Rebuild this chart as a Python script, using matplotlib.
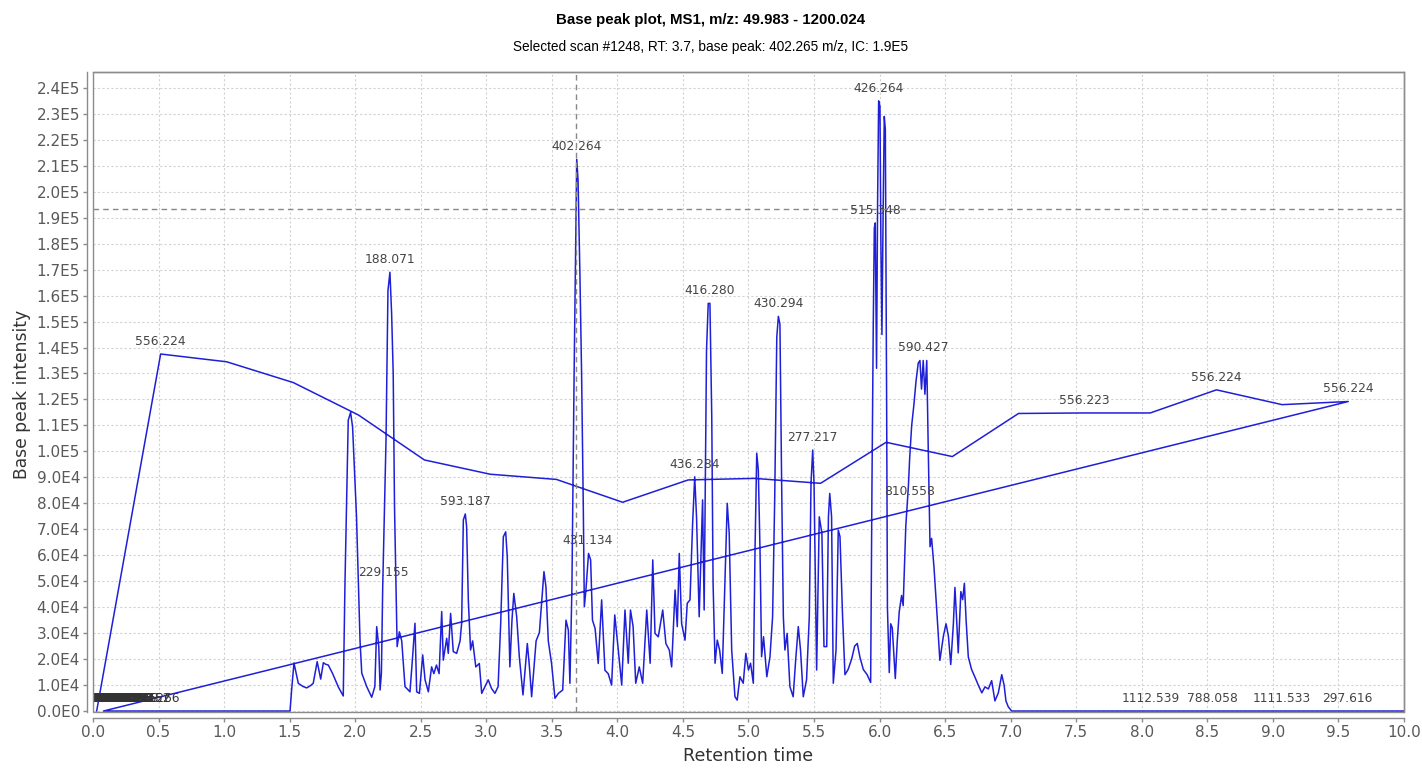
import numpy as np
import matplotlib
matplotlib.use("Agg")
import matplotlib.pyplot as plt
import matplotlib.ticker as ticker
import matplotlib.transforms as mtransforms
from matplotlib.patches import Rectangle

# 标题
TITLE = "Base peak plot, MS1, m/z: 49.983 - 1200.024"
SUBTITLE = "Selected scan #1248, RT: 3.7, base peak: 402.265 m/z, IC: 1.9E5"

# 选中扫描的十字线位置
sel_rt = 3.684
sel_bpi = 193400

# 数据点（按文件顺序）：前面一段约每 0.5 min 一个点，然后回到起点
coarse_rt = [0.028, 0.516, 1.02, 1.528, 2.025, 2.528, 3.03, 3.535, 4.04, 4.54,
             5.045, 5.55, 6.05, 6.555, 7.06, 7.56, 8.065, 8.57, 9.07, 9.575,
             0.08, 1.503]
coarse_bpi = [0, 13.75, 13.45, 12.65, 11.4, 9.67, 9.12, 8.92, 8.04, 8.9,
              8.96, 8.77, 10.35, 9.8, 11.46, 11.48, 11.48, 12.37, 11.8, 11.92,
              0, 0]

# 色谱主体（单位 1E4）
scan_rt = [1.515, 1.533, 1.566, 1.60, 1.63, 1.66, 1.68, 1.71, 1.737, 1.757, 1.775, 1.795,
           1.828, 1.871, 1.909, 1.922, 1.947, 1.965, 1.98, 2.01, 2.037, 2.05, 2.088,
           2.126, 2.15, 2.164, 2.18, 2.19, 2.20, 2.21, 2.235, 2.25, 2.265, 2.278, 2.29,
           2.30, 2.32, 2.337, 2.355, 2.38, 2.418, 2.438, 2.456, 2.469, 2.49, 2.515,
           2.533, 2.558, 2.583, 2.60, 2.62, 2.64, 2.66, 2.672, 2.698, 2.71, 2.728,
           2.748, 2.774, 2.80, 2.812, 2.825, 2.84, 2.85, 2.863, 2.88, 2.896, 2.92,
           2.947, 2.965, 2.99, 3.015, 3.04, 3.066, 3.09, 3.11, 3.13, 3.148, 3.16,
           3.18, 3.196, 3.21, 3.232, 3.252, 3.28, 3.313, 3.328, 3.346, 3.38, 3.405,
           3.42, 3.44, 3.455, 3.473, 3.498, 3.524, 3.55, 3.583, 3.608, 3.626, 3.638,
           3.653, 3.67, 3.69, 3.70, 3.714, 3.727, 3.74, 3.748, 3.76, 3.78, 3.796,
           3.81, 3.83, 3.854, 3.88, 3.905, 3.93, 3.956, 3.98, 4.007, 4.033, 4.058,
           4.083, 4.10, 4.12, 4.14, 4.167, 4.193, 4.224, 4.25, 4.27, 4.287, 4.312,
           4.346, 4.37, 4.396, 4.414, 4.44, 4.457, 4.472, 4.49, 4.516, 4.533, 4.554,
           4.574, 4.59, 4.604, 4.624, 4.65, 4.662, 4.68, 4.693, 4.706, 4.72, 4.73,
           4.745, 4.762, 4.78, 4.80, 4.82, 4.838, 4.853, 4.872, 4.897, 4.914, 4.935,
           4.96, 4.98, 5.0, 5.016, 5.037, 5.05, 5.063, 5.075, 5.088, 5.10, 5.115,
           5.14, 5.164, 5.184, 5.2, 5.216, 5.228, 5.24, 5.253, 5.266, 5.278, 5.295,
           5.316, 5.341, 5.36, 5.38, 5.397, 5.418, 5.443, 5.464, 5.477, 5.49, 5.50,
           5.52, 5.54, 5.56, 5.576, 5.597, 5.61, 5.62, 5.634, 5.647, 5.668, 5.685,
           5.698, 5.718, 5.736, 5.76, 5.787, 5.81, 5.83, 5.85, 5.876, 5.905, 5.932,
           5.942, 5.952, 5.96, 5.967, 5.977, 5.985, 5.993, 6.003, 6.01, 6.018, 6.028,
           6.036, 6.044, 6.054, 6.06, 6.074, 6.085, 6.097, 6.11, 6.12, 6.135, 6.15,
           6.168, 6.18, 6.2, 6.22, 6.23, 6.245, 6.262, 6.278, 6.295, 6.308, 6.32,
           6.333, 6.346, 6.36, 6.371, 6.385, 6.397, 6.415, 6.435, 6.46, 6.487, 6.507,
           6.525, 6.543, 6.563, 6.575, 6.588, 6.6, 6.62, 6.634, 6.647, 6.66, 6.677,
           6.702, 6.728, 6.753, 6.78, 6.804, 6.83, 6.855, 6.88, 6.906, 6.932, 6.95,
           6.964, 6.982, 7.008, 10.0]
scan_bpi = [0.8, 1.85, 1.07, 0.95, 0.89, 0.98, 1.07, 1.9, 1.23, 1.86, 1.8, 1.77,
            1.44, 0.93, 0.58, 4.9, 11.2, 11.5, 10.95, 7.5, 2.7, 1.46, 0.94,
            0.53, 0.94, 3.25, 2.48, 0.81, 1.46, 4.79, 10.4, 16.2, 16.9, 15.3, 13.0,
            7.87, 2.48, 3.05, 2.7, 0.94, 0.74, 2.09, 3.38, 0.74, 0.68, 2.16,
            1.2, 0.74, 1.7, 1.44, 1.77, 1.44, 3.83, 1.96, 2.8, 2.22, 3.76,
            2.29, 2.22, 2.7, 3.38, 7.36, 7.59, 7.1, 4.28, 2.35, 2.7, 1.7,
            1.83, 0.68, 0.94, 1.2, 0.87, 0.68, 0.94, 3.38, 6.71, 6.9, 5.94,
            1.7, 3.5, 4.53, 3.63, 2.09, 0.62, 2.6, 1.77, 0.55, 2.7, 3.02,
            4.02, 5.37, 4.79, 2.7, 1.83, 0.49, 0.68, 0.81, 3.5, 3.12, 1.07,
            4.66, 13.0, 21.25, 20.45, 16.9, 13.0, 7.87, 4.02, 4.66, 6.07, 5.82,
            3.5, 3.18, 1.83, 4.28, 1.57, 1.44, 1.0, 3.7, 2.35, 1.0, 3.89,
            1.84, 3.89, 3.25, 1.07, 1.7, 1.07, 3.89, 1.84, 5.82, 2.99, 2.86,
            3.89, 2.6, 2.35, 1.7, 4.66, 3.25, 6.07, 3.37, 2.73, 4.15, 4.28,
            7.23, 9.02, 7.45, 3.63, 8.13, 3.89, 13.9, 15.7, 15.7, 11.3, 4.92,
            1.84, 2.73, 2.35, 1.45, 4.92, 8.0, 6.85, 2.35, 0.55, 0.42, 1.32,
            1.07, 2.22, 1.58, 1.84, 1.07, 6.2, 9.93, 9.29, 6.2, 2.09, 2.86,
            1.32, 2.09, 3.63, 8.13, 14.4, 15.2, 14.9, 8.77, 3.63, 2.35, 2.99,
            0.94, 0.55, 1.96, 3.25, 2.35, 0.55, 1.2, 3.63, 8.77, 10.05, 8.77,
            1.58, 7.48, 6.85, 2.48, 2.48, 7.48, 8.38, 7.48, 1.07, 2.35, 6.97,
            6.72, 3.63, 1.4, 1.6, 2.0, 2.5, 2.6, 2.08, 1.6, 1.4, 1.1,
            8.67, 14.9, 18.6, 18.8, 13.2, 19.6, 23.5, 23.3, 18.1, 14.5, 19.6,
            22.9, 22.4, 11.8, 3.98, 1.48, 3.36, 3.2, 2.08, 1.25, 2.7, 3.82,
            4.45, 4.06, 7.11, 8.67, 9.77, 11.0, 11.8, 12.7, 13.4, 13.5, 12.4,
            13.5, 12.2, 13.5, 10.2, 6.33, 6.65, 5.55, 3.98, 1.95, 2.89, 3.36,
            2.89, 1.79, 3.36, 4.76, 3.51, 2.24, 4.6, 4.29, 4.92, 3.51, 2.08,
            1.6, 1.3, 1.0, 0.7, 0.93, 0.85, 1.17, 0.39, 0.7, 1.4, 1.0,
            0.39, 0.16, 0.0, 0.0]

# 峰标注（m/z）
label_rt = [0.516, 2.265, 3.69, 5.993, 5.967, 4.70, 5.228, 6.333, 7.56, 8.57,
            9.575, 5.49, 4.59, 6.227, 2.84, 3.773, 2.215, 8.07, 8.54, 9.07, 9.57]
label_bpi = [13.75, 16.9, 21.25, 23.5, 18.8, 15.7, 15.2, 13.5, 11.48, 12.37,
             11.92, 10.05, 9.02, 7.95, 7.59, 6.07, 4.85, 0, 0, 0, 0]
label_text = ["556.224", "188.071", "402.264", "426.264", "515.348", "416.280",
              "430.294", "590.427", "556.223", "556.224", "556.224", "277.217",
              "436.284", "810.558", "593.187", "431.134", "229.155", "1112.539",
              "788.058", "1111.533", "297.616"]

# 起始处零强度扫描的重叠标注
cluster_rt = [0.00, 0.01, 0.02, 0.03, 0.04, 0.05, 0.06, 0.07, 0.08, 0.09,
              0.10, 0.11, 0.12, 0.13, 0.14, 0.15, 0.16, 0.17, 0.18, 0.19,
              0.20, 0.21, 0.22, 0.23, 0.24, 0.25, 0.26, 0.27, 0.28, 0.29,
              0.30, 0.31, 0.40, 0.47]
cluster_text = ["118.086", "391.284", "149.023", "279.159", "113.084", "301.141",
                "217.105", "163.123", "355.070", "429.089", "195.088", "341.138",
                "415.212", "245.077", "503.117", "149.045", "261.132", "371.101",
                "133.014", "288.202", "104.107", "227.175", "319.227", "445.120",
                "177.102", "207.066", "393.297", "255.230", "123.091", "467.301",
                "185.115", "311.168", "263.152", "283.266"]

BLUE = "#1f1fd8"
GRAY = "#555555"

rt = np.array(coarse_rt + scan_rt)
bpi = np.array(coarse_bpi + scan_bpi) * 1e4

fig = plt.figure(figsize=(14.22, 7.68), dpi=100)
ax = fig.add_axes([0.0654, 0.0725, 0.9219, 0.8337])

ax.plot(rt, bpi, color=BLUE, linewidth=1.1, zorder=3)

# 十字线
ax.axvline(sel_rt, color="#888888", linestyle=(0, (4, 3)), linewidth=1.0, zorder=4)
ax.axhline(sel_bpi, color="#888888", linestyle=(0, (4, 3)), linewidth=1.0, zorder=4)

# 标注：点上方几个像素，裁剪到绘图区
lab_trans = mtransforms.offset_copy(ax.transData, fig=fig, x=0, y=4.5, units="points")
for x, y, s in zip(label_rt, label_bpi, label_text):
    ax.text(x, y * 1e4, s, transform=lab_trans, ha="center", va="bottom",
            fontsize=8.8, color="#444444", family="DejaVu Sans", zorder=5,
            clip_on=True)
for x, s in zip(cluster_rt, cluster_text):
    ax.text(x, 0, s, transform=lab_trans, ha="center", va="bottom",
            fontsize=8.8, color="#333333", family="DejaVu Sans", zorder=5,
            clip_on=True)

ax.set_xlim(0, 10)
ax.set_ylim(-500, 246100)

ax.xaxis.set_major_locator(ticker.MultipleLocator(0.5))
ax.xaxis.set_major_formatter(ticker.FormatStrFormatter("%.1f"))
ax.yaxis.set_major_locator(ticker.FixedLocator(np.arange(0, 240001, 10000)))


def sci_fmt(v, pos):
    if abs(v) < 1e-9:
        return "0.0E0"
    e = int(np.floor(np.log10(abs(v)) + 1e-9))
    return f"{v / 10 ** e:.1f}E{e}"


ax.yaxis.set_major_formatter(ticker.FuncFormatter(sci_fmt))

ax.grid(True, color="#d2d2d2", linestyle=(0, (2, 2)), linewidth=0.8)
ax.set_axisbelow(True)

for side in ["left", "bottom"]:
    ax.spines[side].set_position(("outward", 4.3))
for sp in ax.spines.values():
    sp.set_color("#8c8c8c")
    sp.set_linewidth(1.0)
ax.add_patch(Rectangle((0, 0), 1, 1, transform=ax.transAxes, fill=False,
                       edgecolor="#8c8c8c", linewidth=1.0, clip_on=False, zorder=6))

ax.tick_params(axis="both", colors="#8c8c8c", length=3, width=1.0,
               labelsize=11, labelcolor="#595959", pad=2)

fig.text(0.5, 1 - 20 / 768, TITLE, ha="center", va="center", fontsize=10.8,
         fontweight="bold", family="Liberation Sans")
fig.text(0.5, 1 - 47 / 768, SUBTITLE, ha="center", va="center", fontsize=9.8,
         family="Liberation Sans")
fig.text(748 / 1422, 1 - 756 / 768, "Retention time", ha="center", va="center",
         fontsize=12.6, color="#333333")
fig.text(22 / 1422, 1 - 394 / 768, "Base peak intensity", ha="center", va="center",
         rotation=90, fontsize=12.3, color="#333333")

fig.savefig("out.png", dpi=100)
